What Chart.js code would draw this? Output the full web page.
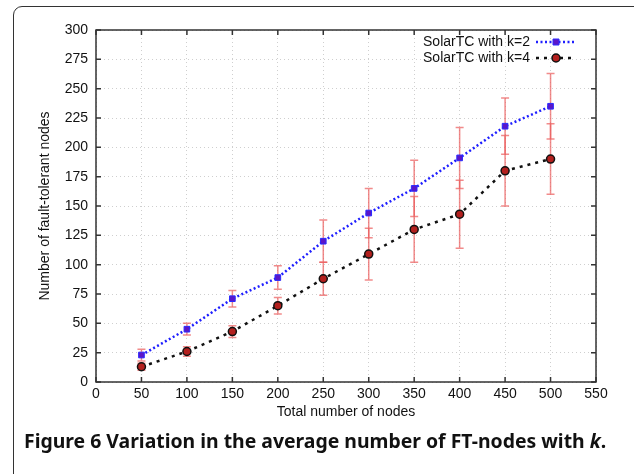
<!DOCTYPE html>
<html>
<head>
<meta charset="utf-8">
<script src="https://cdn.jsdelivr.net/npm/chart.js@4"></script>
<style>
  body { margin: 0; background: #fff; }
  #wrap { position: relative; width: 634px; height: 474px; overflow: hidden; }
  #frame { position: absolute; left: 13px; top: 6px; width: 640px; height: 500px;
           border: 1px solid #333; border-radius: 9px; box-sizing: border-box; }
  canvas { position: absolute; left: 0; top: 0; }
  #caption { position: absolute; left: 24px; top: 427px; font-family: "Noto Sans", sans-serif;
             font-weight: bold; font-size: 19.4px; color: #111; white-space: nowrap; }
</style>
</head>
<body>
<div id="wrap">
  <div id="frame"></div>
  <canvas id="chart" width="634" height="474"></canvas>
  <div id="caption">Figure 6 Variation in the average number of FT-nodes with <i>k</i>.</div>
</div>
<script>
let nodes = [50, 100, 150, 200, 250, 300, 350, 400, 450, 500]
let k2_vals = [23, 45, 71, 89, 120, 144, 165, 191, 218, 235]
let k2_err = [5, 5, 7, 10, 18, 21, 24, 26, 24, 28]
let k4_vals = [13, 26, 43, 65, 88, 109, 130, 143, 180, 190]
let k4_err = [3, 4, 5, 7, 14, 22, 28, 29, 30, 30]
let series_names = ["SolarTC with k=2", "SolarTC with k=4"]

let fam = "Arial, 'Liberation Sans', Helvetica, sans-serif"
let tickFont = { family: fam, size: 14 }

// red error bars, drawn under the markers
const errorBars = {
  id: 'errorBars',
  beforeDatasetsDraw(chart) {
    const ctx = chart.ctx, xs = chart.scales.x, ys = chart.scales.y
    ctx.save()
    ctx.strokeStyle = 'rgba(235, 90, 90, 0.7)'
    ctx.lineWidth = 1.5
    const sets = [[k2_vals, k2_err], [k4_vals, k4_err]]
    sets.forEach(([vals, errs]) => {
      nodes.forEach((n, i) => {
        const x = xs.getPixelForValue(n)
        const y1 = ys.getPixelForValue(vals[i] - errs[i])
        const y2 = ys.getPixelForValue(vals[i] + errs[i])
        ctx.beginPath()
        ctx.moveTo(x, y1); ctx.lineTo(x, y2)
        ctx.moveTo(x - 4, y1); ctx.lineTo(x + 4, y1)
        ctx.moveTo(x - 4, y2); ctx.lineTo(x + 4, y2)
        ctx.stroke()
      })
    })
    ctx.restore()
  }
}

// box round the plot with gnuplot style inner ticks, plus the key
const frameAndKey = {
  id: 'frameAndKey',
  afterDraw(chart) {
    const ctx = chart.ctx, a = chart.chartArea
    const xs = chart.scales.x, ys = chart.scales.y
    ctx.save()
    ctx.strokeStyle = '#333'
    ctx.lineWidth = 1.5
    ctx.strokeRect(a.left, a.top, a.right - a.left, a.bottom - a.top)
    ctx.beginPath()
    xs.ticks.forEach(t => {
      const x = xs.getPixelForValue(t.value)
      ctx.moveTo(x, a.bottom); ctx.lineTo(x, a.bottom - 5)
      ctx.moveTo(x, a.top); ctx.lineTo(x, a.top + 5)
    })
    ys.ticks.forEach(t => {
      const y = ys.getPixelForValue(t.value)
      ctx.moveTo(a.left, y); ctx.lineTo(a.left + 5, y)
      ctx.moveTo(a.right, y); ctx.lineTo(a.right - 5, y)
    })
    ctx.stroke()

    // key
    ctx.font = "14px " + fam
    ctx.fillStyle = '#111'
    ctx.textAlign = 'right'
    ctx.textBaseline = 'middle'
    const rows = [a.top + 12, a.top + 28]
    chart.data.datasets.forEach((ds, i) => {
      const y = rows[i]
      ctx.fillText(series_names[i], a.right - 66, y)
      ctx.strokeStyle = ds.borderColor
      ctx.lineWidth = ds.borderWidth
      ctx.setLineDash(ds.borderDash)
      ctx.beginPath()
      ctx.moveTo(a.right - 60, y); ctx.lineTo(a.right - 20, y)
      ctx.stroke()
      ctx.setLineDash([])
      ctx.fillStyle = ds.pointBackgroundColor
      ctx.strokeStyle = ds.pointBorderColor
      ctx.lineWidth = ds.pointBorderWidth
      const cx = a.right - 40
      ctx.beginPath()
      if (ds.pointStyle === 'rect') ctx.rect(cx - 3, y - 3, 6, 6)
      else ctx.arc(cx, y, ds.pointRadius, 0, Math.PI * 2)
      ctx.fill(); ctx.stroke()
      ctx.fillStyle = '#111'
    })
    ctx.restore()
  }
}

var ctx = document.getElementById('chart').getContext('2d')

var chart = new Chart(ctx, {
  type: 'line',
  data: {
    datasets: [{
      label: series_names[0],
      data: nodes.map((n, i) => ({ x: n, y: k2_vals[i] })),
      borderColor: '#1f1fff',
      borderWidth: 2.5,
      borderDash: [2, 2.5],
      pointStyle: 'rect',
      pointRadius: 4,
      pointBackgroundColor: '#5a16c8',
      pointBorderColor: '#2a2aff',
      pointBorderWidth: 1,
      tension: 0,
    }, {
      label: series_names[1],
      data: nodes.map((n, i) => ({ x: n, y: k4_vals[i] })),
      borderColor: '#111',
      borderWidth: 2.5,
      borderDash: [3, 5],
      pointStyle: 'circle',
      pointRadius: 4,
      pointBackgroundColor: '#b3201e',
      pointBorderColor: '#111',
      pointBorderWidth: 1.5,
      tension: 0,
    }]
  },
  options: {
    responsive: false,
    animation: false,
    layout: { padding: { top: 30, right: 38, bottom: 47, left: 0 } },
    plugins: {
      legend: { display: false },
      tooltip: { enabled: false },
    },
    scales: {
      x: {
        type: 'linear', min: 0, max: 550,
        afterFit: s => { s.height = 45 },
        ticks: { stepSize: 50, color: '#111', font: tickFont, padding: 4, maxRotation: 0 },
        grid: { color: '#cfcfcf', lineWidth: 1, drawTicks: false },
        border: { display: false, dash: [1, 3] },
        title: { display: true, text: 'Total number of nodes', color: '#111', font: tickFont, padding: { top: 0, bottom: 6 } },
      },
      y: {
        min: 0, max: 300,
        afterFit: s => { s.width = 96 },
        ticks: { stepSize: 25, color: '#111', font: tickFont, padding: 8 },
        grid: { color: '#cfcfcf', lineWidth: 1, drawTicks: false },
        border: { display: false, dash: [1, 3] },
        title: { display: true, text: 'Number of fault-tolerant nodes', color: '#111', font: tickFont, padding: { top: 37, bottom: 0 } },
      }
    }
  },
  plugins: [errorBars, frameAndKey]
});
</script>
</body>
</html>
